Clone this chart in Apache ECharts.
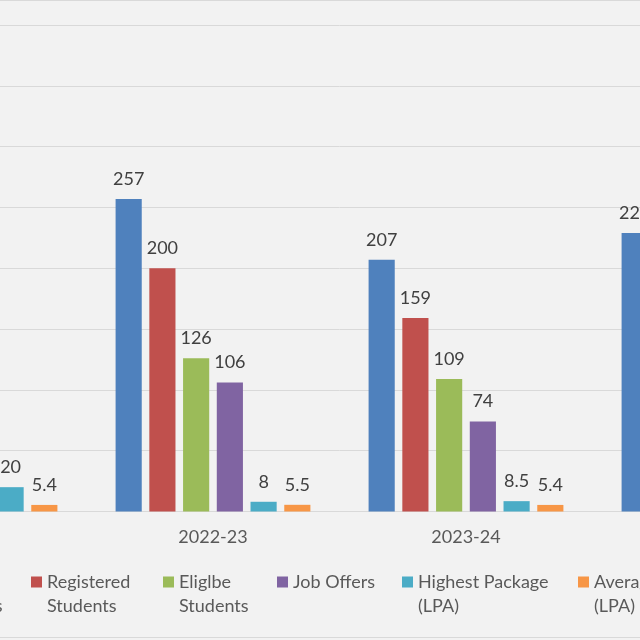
<!DOCTYPE html>
<html>
<head>
<meta charset="utf-8">
<script src="https://cdn.jsdelivr.net/npm/echarts@6/dist/echarts.min.js"></script>
<style>
  html, body { margin: 0; padding: 0; width: 640px; height: 640px; overflow: hidden; background: #F2F2F2; }
  #wrap { position: relative; width: 640px; height: 640px; overflow: hidden; }
  #chart { position: absolute; left: -300px; top: 0; width: 1300px; height: 640px; }
</style>
</head>
<body>
<div id="wrap"><div id="chart"></div></div>
<script>
// Categories (the reference is a crop: only part of 2021-22 and 2024-25 is visible)
const categories = ['2021-22', '2022-23', '2023-24', '2024-25'];

// Series values (null = not visible in the reference)
const totalStudents      = [null, 257, 207, 229];
const registeredStudents = [null, 200, 159, null];
const eligibleStudents   = [null, 126, 109, null];
const jobOffers          = [null, 106, 74, null];
const highestPackage     = [20, 8, 8.5, null];
const averagePackage     = [5.4, 5.5, 5.4, null];

const seriesNames = ['Total Students', 'Registered Students', 'Eliglbe Students', 'Job Offers', 'Highest Package (LPA)', 'Average Package (LPA)'];
const legendLabels = ['Total\nStudents', 'Registered\nStudents', 'Eliglbe\nStudents', 'Job Offers', 'Highest Package\n(LPA)', 'Average Package\n(LPA)'];
const seriesData = [totalStudents, registeredStudents, eligibleStudents, jobOffers, highestPackage, averagePackage];
const colors = ['#4F81BD', '#C0504D', '#9BBB59', '#8064A2', '#4BACC6', '#F79646'];

// y axis ticks
const yMin = 0, yMax = 400, yStep = 50;

const FONT = 'Lato';
const legendLeft = [217, 331, 463, 577, 702, 878];

const chart = echarts.init(document.getElementById('chart'), null, { renderer: 'canvas' });

const legends = seriesNames.map((n, i) => {
  const multi = legendLabels[i].indexOf('\n') >= 0;
  return {
    data: [n],
    left: legendLeft[i],
    top: multi ? 546 : 570,
    padding: 0,
    itemWidth: 11,
    itemHeight: 11,
    itemGap: 0,
    icon: 'rect',
    selectedMode: false,
    formatter: () => multi ? '\n' + legendLabels[i] : legendLabels[i],
    textStyle: { fontFamily: FONT, fontSize: 18, color: '#595959', lineHeight: 24, padding: 0 }
  };
});

const option = {
  backgroundColor: '#F2F2F2',
  animation: false,
  color: colors,
  legend: legends,
  grid: { left: 133.5, right: 154.5, top: 25, bottom: 128.5, containLabel: false },
  xAxis: {
    type: 'category',
    data: categories,
    axisLine: { show: true, lineStyle: { color: '#D9D9D9', width: 1 } },
    axisTick: { show: false },
    axisLabel: { fontFamily: FONT, fontSize: 18, color: '#595959', margin: 17 },
    splitLine: { show: false }
  },
  yAxis: {
    type: 'value',
    min: yMin, max: yMax, interval: yStep,
    axisLine: { show: false },
    axisTick: { show: false },
    axisLabel: { fontFamily: FONT, fontSize: 18, color: '#595959' },
    splitLine: { show: true, lineStyle: { color: '#D9D9D9', width: 1 } }
  },
  graphic: [
    { type: 'line', shape: { x1: 0, y1: 0.5, x2: 1300, y2: 0.5 }, style: { stroke: '#D9D9D9', lineWidth: 1 }, silent: true },
    { type: 'line', shape: { x1: 0, y1: 637.5, x2: 1300, y2: 637.5 }, style: { stroke: '#D9D9D9', lineWidth: 1 }, silent: true }
  ],
  series: seriesNames.map((n, i) => ({
    name: n,
    type: 'bar',
    data: seriesData[i],
    barGap: '29%',
    barCategoryGap: '23%',
    itemStyle: { color: colors[i] },
    label: {
      show: true,
      position: 'top',
      distance: 11,
      fontFamily: FONT,
      fontSize: 18,
      color: '#404040'
    }
  }))
};

chart.setOption(option);
</script>
</body>
</html>
